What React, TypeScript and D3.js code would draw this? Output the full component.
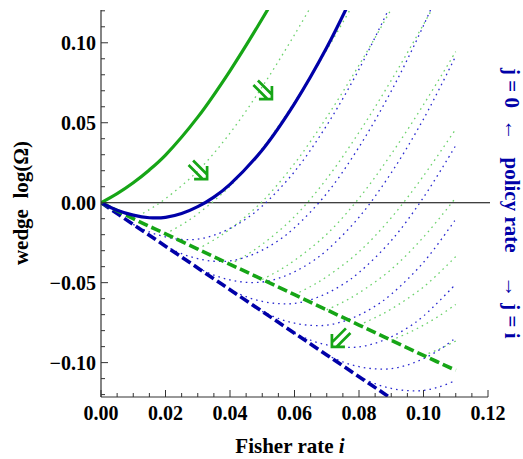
import React from 'react';
import * as d3 from 'd3';

type P = [number, number];

// ---- axis ticks ----
const xMajorTicks = [0, 0.02, 0.04, 0.06, 0.08, 0.1, 0.12];
const xTickLabels = ['0.00', '0.02', '0.04', '0.06', '0.08', '0.10', '0.12'];
const yMajorTicks = [-0.1, -0.05, 0, 0.05, 0.1];
const yTickLabels = ['\u22120.10', '\u22120.05', '0.00', '0.05', '0.10'];

// ---- green family ----
const greenJ0: P[] = [[0, 0], [0.005, 0.0057], [0.01, 0.0125], [0.015, 0.0205], [0.02, 0.0298], [0.03, 0.0535], [0.04, 0.0825], [0.05, 0.115], [0.06, 0.15]];
const greenJi: P[] = [[0, 0], [0.01, -0.01], [0.02, -0.0195], [0.03, -0.029], [0.04, -0.0385], [0.05, -0.048], [0.06, -0.0575], [0.07, -0.067], [0.08, -0.0765], [0.09, -0.086], [0.1, -0.0955], [0.11, -0.1048]];
const greenJ01: P[] = [[0.01, -0.01], [0.015, -0.0043], [0.02, 0.0025], [0.03, 0.0198], [0.04, 0.0435], [0.05, 0.0725], [0.06, 0.105], [0.07, 0.14]];
const greenJ02: P[] = [[0.02, -0.0195], [0.025, -0.0138], [0.03, -0.007], [0.04, 0.0103], [0.05, 0.034], [0.06, 0.063], [0.07, 0.0955], [0.08, 0.1305]];
const greenJ03: P[] = [[0.03, -0.029], [0.035, -0.0233], [0.04, -0.0165], [0.05, 0.0008], [0.06, 0.0245], [0.07, 0.0535], [0.08, 0.086], [0.09, 0.121], [0.1, 0.157]];
const greenJ04: P[] = [[0.04, -0.0385], [0.045, -0.0328], [0.05, -0.026], [0.06, -0.0087], [0.07, 0.015], [0.08, 0.044], [0.09, 0.0765], [0.1, 0.1115], [0.11, 0.1475]];
const greenJ05: P[] = [[0.05, -0.048], [0.055, -0.0426], [0.06, -0.0361], [0.07, -0.0197], [0.08, 0.0028], [0.09, 0.0304], [0.1, 0.0613], [0.11, 0.0945]];
const greenJ06: P[] = [[0.06, -0.0575], [0.065, -0.0524], [0.07, -0.0463], [0.08, -0.0307], [0.09, -0.0094], [0.1, 0.0168], [0.11, 0.046]];
const greenJ07: P[] = [[0.07, -0.067], [0.075, -0.0622], [0.08, -0.0564], [0.09, -0.0417], [0.1, -0.0215], [0.11, 0.0031]];
const greenJ08: P[] = [[0.08, -0.0765], [0.085, -0.0719], [0.09, -0.0665], [0.1, -0.0527], [0.11, -0.0337]];
const greenJ09: P[] = [[0.09, -0.086], [0.095, -0.0817], [0.1, -0.0766], [0.105, -0.0706], [0.11, -0.0636]];
const greenJ10: P[] = [[0.1, -0.0955], [0.105, -0.0914], [0.11, -0.0865]];
const greenDotted = [greenJ01, greenJ02, greenJ03, greenJ04, greenJ05, greenJ06, greenJ07, greenJ08, greenJ09, greenJ10];

// ---- blue family ----
const blueJ0: P[] = [[0, 0], [0.005, -0.0047], [0.01, -0.0078], [0.015, -0.0094], [0.02, -0.0092], [0.025, -0.0068], [0.03, -0.0025], [0.035, 0.0035], [0.04, 0.0115], [0.05, 0.033], [0.06, 0.062], [0.07, 0.097], [0.08, 0.138]];
const blueJi: P[] = [[0, 0], [0.01, -0.0136], [0.02, -0.0272], [0.03, -0.0408], [0.04, -0.0544], [0.05, -0.068], [0.06, -0.0816], [0.07, -0.0952], [0.08, -0.1088], [0.09, -0.1224]];
const blueJ01: P[] = [[0.01, -0.0136], [0.015, -0.0183], [0.02, -0.0214], [0.025, -0.023], [0.03, -0.0228], [0.035, -0.0204], [0.04, -0.0161], [0.045, -0.0101], [0.05, -0.0021], [0.06, 0.0194], [0.07, 0.0484], [0.08, 0.0834], [0.09, 0.1244]];
const blueJ02: P[] = [[0.02, -0.0272], [0.025, -0.0319], [0.03, -0.035], [0.035, -0.0366], [0.04, -0.0364], [0.045, -0.034], [0.05, -0.0297], [0.055, -0.0237], [0.06, -0.0157], [0.07, 0.0058], [0.08, 0.0348], [0.09, 0.0698], [0.1, 0.1108], [0.11, 0.1578]];
const blueJ03: P[] = [[0.03, -0.0408], [0.035, -0.0453], [0.04, -0.0483], [0.045, -0.0498], [0.05, -0.0496], [0.055, -0.0473], [0.06, -0.0432], [0.065, -0.0374], [0.07, -0.0298], [0.08, -0.0091], [0.09, 0.0187], [0.1, 0.0523], [0.11, 0.0917]];
const blueJ04: P[] = [[0.04, -0.0544], [0.045, -0.0588], [0.05, -0.0617], [0.055, -0.0631], [0.06, -0.063], [0.065, -0.0607], [0.07, -0.0567], [0.075, -0.0511], [0.08, -0.0437], [0.09, -0.0237], [0.1, 0.0033], [0.11, 0.0358]];
const blueJ05: P[] = [[0.05, -0.068], [0.055, -0.0724], [0.06, -0.0753], [0.065, -0.0767], [0.07, -0.0766], [0.075, -0.0743], [0.08, -0.0703], [0.085, -0.0647], [0.09, -0.0573], [0.1, -0.0373], [0.11, -0.0103]];
const blueJ06: P[] = [[0.06, -0.0816], [0.065, -0.086], [0.07, -0.0889], [0.075, -0.0903], [0.08, -0.0902], [0.085, -0.0879], [0.09, -0.0839], [0.095, -0.0783], [0.1, -0.0709], [0.11, -0.0509]];
const blueJ07: P[] = [[0.07, -0.0952], [0.075, -0.0996], [0.08, -0.1025], [0.085, -0.1039], [0.09, -0.1038], [0.095, -0.1015], [0.1, -0.0975], [0.105, -0.0919], [0.11, -0.0845]];
const blueJ08: P[] = [[0.08, -0.1088], [0.085, -0.1132], [0.09, -0.1161], [0.095, -0.1175], [0.1, -0.1174], [0.105, -0.1151], [0.11, -0.1111]];
const blueJ09: P[] = [[0.09, -0.1224], [0.095, -0.1268], [0.1, -0.1297], [0.105, -0.1311], [0.11, -0.131]];
const blueDotted = [blueJ01, blueJ02, blueJ03, blueJ04, blueJ05, blueJ06, blueJ07, blueJ08, blueJ09];

// ---- annotation arrows (tip in data units, direction) ----
const arrowTips: P[] = [[0.0329, 0.0148], [0.053, 0.0648], [0.0716, -0.0902]];
const arrowDirs = [45, 45, 135];

// ---- right-side label pieces ----
const sideLabelParts = ['j = 0', '\u2190', 'policy rate', '\u2192', 'j = i'];
const sideLabelY = [88, 130, 205, 287, 321];

const GREEN = '#16a516';
const BLUE = '#0000a8';
const LGREEN = '#6dd26d';
const LBLUE = '#2a2ad0';
const FONT = '"Liberation Serif", "DejaVu Serif", serif';

export default function App() {
  const x = d3.scaleLinear().domain([0, 0.12]).range([101, 488]);
  const y = d3.scaleLinear().domain([-0.1215, 0.1205]).range([397, 10]);
  const line = d3.line<P>().x(d => x(d[0])).y(d => y(d[1])).curve(d3.curveCatmullRom.alpha(0.5));

  const xMinor = d3.range(0, 24.5, 1).map(k => k * 0.005);
  const yMinor = d3.range(-12, 12.5, 1).map(k => k * 0.01);
  const isMajorX = (v: number) => Math.abs(v / 0.02 - Math.round(v / 0.02)) < 1e-6;
  const isMajorY = (v: number) => Math.abs(v / 0.05 - Math.round(v / 0.05)) < 1e-6;

  const arrowPath = 'M -9.2,-9.2 L 0,0 L -9.2,9.2 M -23,-3.2 L -3.2,-3.2 M -23,3.2 L -3.2,3.2';

  return (
    <svg width={523} height={459} style={{ position: 'absolute', left: 0, top: 0, background: '#fff' }} fontFamily={FONT}>
      <defs>
        <clipPath id="plotClip">
          <rect x={101} y={10} width={390} height={387} />
        </clipPath>
      </defs>

      {/* zero line */}
      <line x1={x(0)} x2={490} y1={y(0)} y2={y(0)} stroke="#000" strokeWidth={1.1} />

      <g clipPath="url(#plotClip)" fill="none">
        {greenDotted.map((d, k) => (
          <path key={'g' + k} d={line(d) || ''} stroke={LGREEN} strokeWidth={1.3} strokeDasharray="1.6 4" />
        ))}
        {blueDotted.map((d, k) => (
          <path key={'b' + k} d={line(d) || ''} stroke={LBLUE} strokeWidth={1.3} strokeDasharray="1.6 4" />
        ))}
        <path d={line(blueJi) || ''} stroke={BLUE} strokeWidth={3.6} strokeDasharray="10 4" />
        <path d={line(greenJi) || ''} stroke={GREEN} strokeWidth={3.6} strokeDasharray="10 4" />
        <path d={line(blueJ0) || ''} stroke={BLUE} strokeWidth={3.2} />
        <path d={line(greenJ0) || ''} stroke={GREEN} strokeWidth={3.2} />
      </g>

      {/* arrows */}
      {arrowTips.map((t, k) => (
        <path key={'a' + k} d={arrowPath} transform={`translate(${x(t[0])},${y(t[1])}) rotate(${arrowDirs[k]})`}
          fill="none" stroke={GREEN} strokeWidth={2.7} strokeLinejoin="miter" />
      ))}

      {/* axes */}
      <line x1={101} x2={101} y1={10} y2={397} stroke="#333" strokeWidth={1.2} />
      <line x1={101} x2={488} y1={397} y2={397} stroke="#333" strokeWidth={1.2} />
      {xMinor.map((v, k) => (
        <line key={'xt' + k} x1={x(v)} x2={x(v)} y1={397} y2={397 - (isMajorX(v) ? 7 : 4)} stroke="#333" strokeWidth={1} />
      ))}
      {yMinor.map((v, k) => (
        <line key={'yt' + k} x1={101} x2={101 + (isMajorY(v) ? 7 : 4)} y1={y(v)} y2={y(v)} stroke="#333" strokeWidth={1} />
      ))}
      {xMajorTicks.map((v, k) => (
        <text key={'xl' + k} x={x(v)} y={420} textAnchor="middle" fontSize={20} fontWeight="bold">{xTickLabels[k]}</text>
      ))}
      {yMajorTicks.map((v, k) => (
        <text key={'yl' + k} x={96} y={y(v) + 7} textAnchor="end" fontSize={20} fontWeight="bold">{yTickLabels[k]}</text>
      ))}

      {/* axis titles */}
      <text x={290} y={453} textAnchor="middle" fontSize={21} fontWeight="bold">
        Fisher rate <tspan fontStyle="italic">i</tspan>
      </text>
      <text transform="translate(28,203) rotate(-90)" textAnchor="middle" fontSize={21} fontWeight="bold" style={{ whiteSpace: 'pre' }}>
        {'wedge  log(\u03A9)'}
      </text>
      {sideLabelParts.map((s, k) => (
        <text key={'s' + k} transform={`translate(505,${sideLabelY[k]}) rotate(90)`} textAnchor="middle" fontSize={21}
          fontWeight="bold" fill={BLUE} style={{ whiteSpace: 'pre' }}>{s}</text>
      ))}
    </svg>
  );
}
